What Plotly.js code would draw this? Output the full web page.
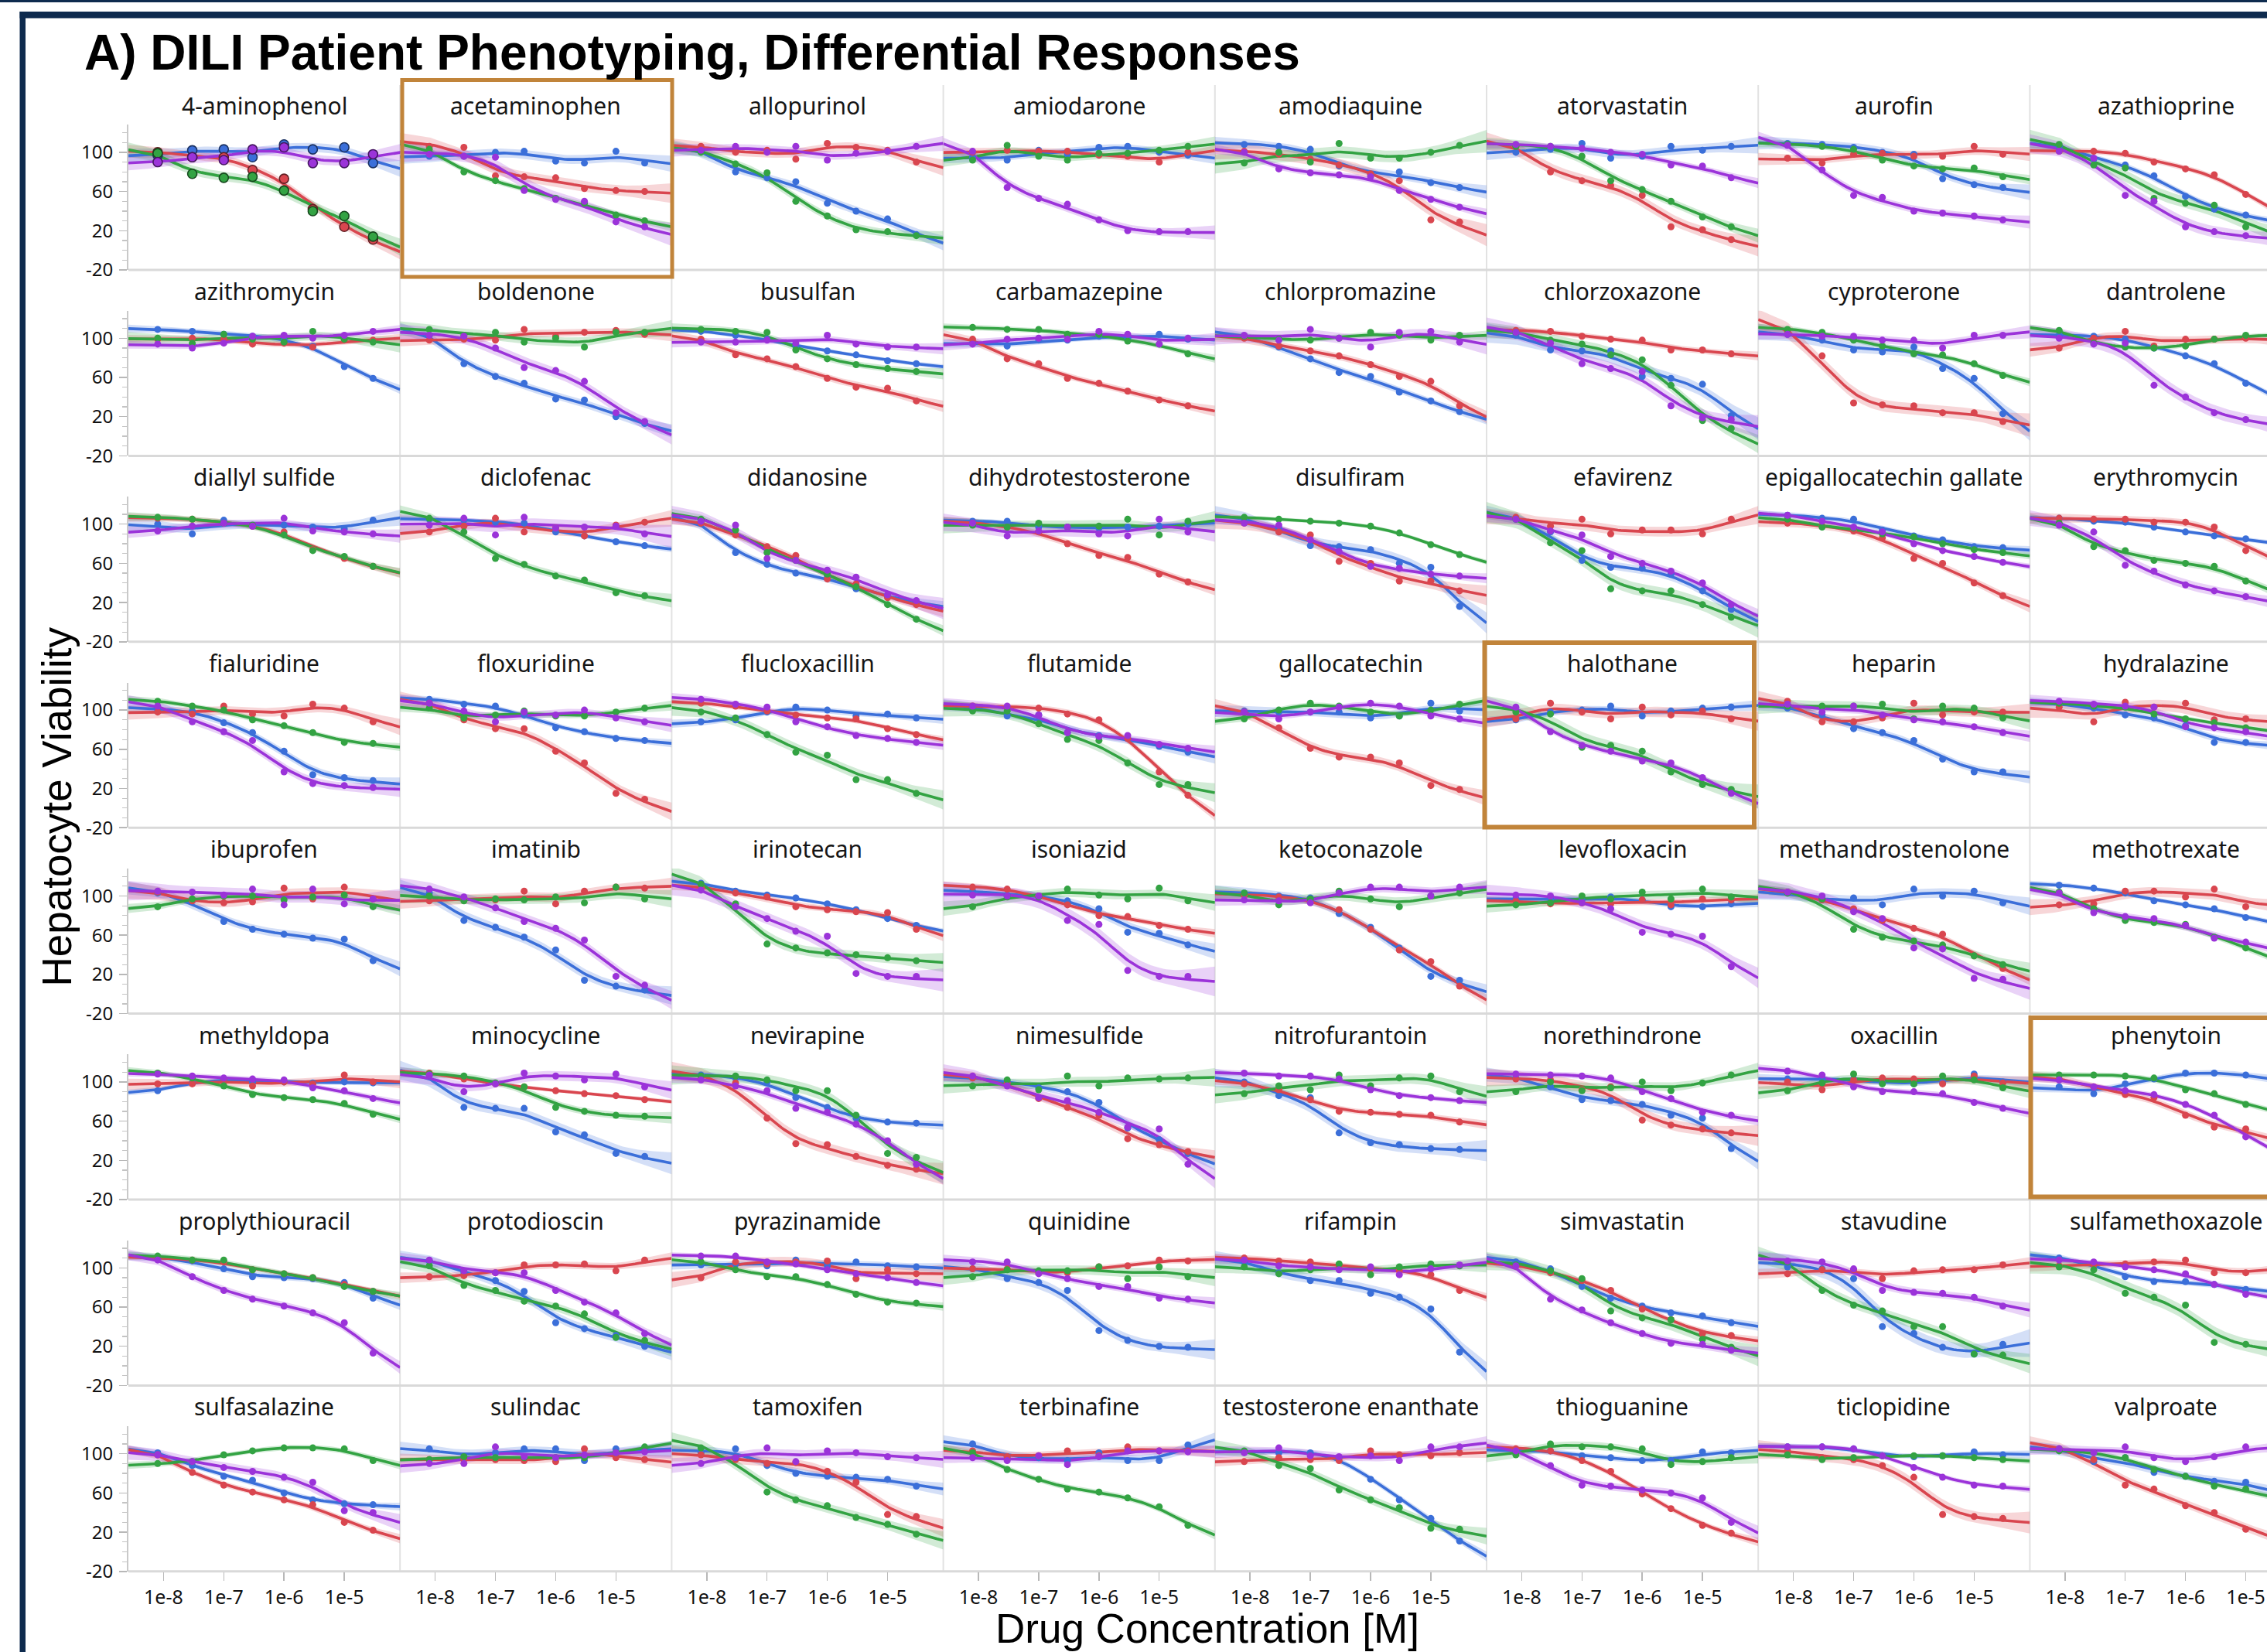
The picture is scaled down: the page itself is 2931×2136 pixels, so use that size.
<!DOCTYPE html>
<html>
<head>
<meta charset="utf-8">
<script src="https://cdn.plot.ly/plotly-3.0.1.min.js"></script>
<style>
html,body{margin:0;padding:0;background:#ffffff;overflow:hidden;width:2931px;height:2136px;}
#chart{width:2990px;height:2136px;}
</style>
</head>
<body>
<div id="chart"></div>
<script>
// ---------------- DATA ----------------
const drugs = ["4-aminophenol","acetaminophen","allopurinol","amiodarone","amodiaquine","atorvastatin","aurofin","azathioprine",
"azithromycin","boldenone","busulfan","carbamazepine","chlorpromazine","chlorzoxazone","cyproterone","dantrolene",
"diallyl sulfide","diclofenac","didanosine","dihydrotestosterone","disulfiram","efavirenz","epigallocatechin gallate","erythromycin",
"fialuridine","floxuridine","flucloxacillin","flutamide","gallocatechin","halothane","heparin","hydralazine",
"ibuprofen","imatinib","irinotecan","isoniazid","ketoconazole","levofloxacin","methandrostenolone","methotrexate",
"methyldopa","minocycline","nevirapine","nimesulfide","nitrofurantoin","norethindrone","oxacillin","phenytoin",
"proplythiouracil","protodioscin","pyrazinamide","quinidine","rifampin","simvastatin","stavudine","sulfamethoxazole",
"sulfasalazine","sulindac","tamoxifen","terbinafine","testosterone enanthate","thioguanine","ticlopidine","valproate"];

const concentrations = [8e-9, 3e-8, 1e-7, 3e-7, 1e-6, 3e-6, 1e-5, 3e-5];

const viabilityBlue = [
[97,102,103,95,108,103,105,89],[96,96,100,101,91,89,101,89],[102,80,74,70,48,40,32,16],[95,92,102,98,105,106,100,97],
[108,106,103,86,77,80,69,64],[100,103,109,94,96,106,102,106],[109,108,105,100,98,73,67,64],[106,93,87,76,55,42,36,30],
[109,107,104,102,98,92,71,59],[103,74,61,54,38,37,20,13],[107,103,99,92,87,83,77,74],[95,92,98,98,102,100,104,99],
[102,91,79,65,61,45,36,25],[103,88,87,87,61,59,53,21],[104,98,88,86,91,69,59,23],[103,102,99,90,82,74,54,40],
[100,90,104,98,99,97,95,104],[105,104,102,101,92,88,82,78],[101,71,59,50,47,34,26,21],[103,103,97,97,96,97,98,100],
[105,96,78,77,74,60,56,16],[105,92,63,56,55,49,32,13],[109,106,105,94,88,84,77,76],[106,103,102,97,92,88,85,80],
[100,99,87,77,58,34,31,28],[111,106,104,95,82,78,71,69],[88,90,98,103,100,94,96,92],[103,94,95,77,74,71,63,57],
[99,98,98,98,92,94,107,99],[90,98,100,104,94,99,102,103],[102,95,81,77,69,50,37,37],[106,102,95,92,84,67,67,64],
[103,95,74,66,61,57,56,34],[103,75,68,58,45,14,8,4],[113,105,101,98,92,86,77,70],[105,101,100,95,87,63,62,50],
[103,100,98,82,68,47,18,14],[97,97,96,99,96,89,89,92],[103,96,98,91,107,100,105,93],[111,108,103,95,91,87,78,72],
[91,99,103,100,100,99,100,99],[107,74,73,73,49,46,27,24],[107,104,100,84,74,63,59,58],[104,100,94,90,79,53,41,27],
[100,86,84,48,38,36,32,31],[104,95,82,81,77,66,63,32],[103,103,103,99,98,100,108,100],[95,88,98,103,109,109,107,102],
[110,107,99,91,90,89,85,69],[107,95,87,76,44,38,31,20],[103,104,102,108,102,106,102,101],[99,89,85,77,36,26,20,19],
[106,95,87,87,74,70,58,14],[106,99,81,69,61,54,51,44],[101,99,89,40,33,19,12,22],[110,104,91,86,86,83,78,75],
[101,88,77,73,60,53,49,48],[105,97,101,105,105,93,105,103],[101,105,88,80,77,76,74,67],[110,97,96,93,101,93,93,109],
[102,101,101,96,74,53,34,11],[103,103,98,96,93,93,102,101],[107,107,105,98,97,98,102,99],[105,92,96,81,77,72,71,60]
];

const viabilityRed = [
[100,95,95,82,73,42,24,11],[106,105,76,75,74,63,61,60],[106,100,102,93,109,105,102,90],[100,102,101,101,97,96,90,100],
[101,98,93,87,78,71,31,29],[106,80,71,66,56,24,21,11],[94,89,98,99,96,96,106,98],[101,101,99,90,83,77,57,40],
[99,100,99,94,95,91,98,98],[98,99,98,109,102,106,108,104],[99,83,79,71,59,50,49,36],[99,79,74,59,54,46,37,31],
[100,92,87,82,73,61,56,31],[108,107,102,99,98,88,88,84],[107,82,34,32,31,24,24,15],[90,100,107,92,99,99,100,98],
[106,105,101,98,92,74,65,57],[92,98,106,92,96,88,99,102],[101,89,77,68,44,39,25,18],[101,97,92,80,68,66,49,41],
[101,92,89,62,60,42,42,32],[107,98,105,90,94,94,90,105],[101,98,93,86,65,60,40,27],[106,105,105,102,102,97,73,65],
[98,96,104,96,94,106,102,88],[107,90,81,81,58,46,15,9],[107,104,99,95,92,91,81,75],[104,103,102,96,90,71,37,13],
[98,82,61,52,52,46,23,19],[91,107,98,91,103,95,99,91],[109,88,88,92,107,95,98,98],[103,88,108,103,107,90,91,88],
[104,95,93,94,108,97,109,97],[95,97,96,105,92,105,109,108],[109,103,99,89,86,84,83,66],[109,107,100,91,80,79,70,66],
[101,99,95,86,66,45,33,8],[95,92,93,92,96,91,97,96],[104,96,87,75,67,61,39,26],[91,92,105,105,99,107,89,92],
[98,98,103,96,100,98,107,100],[109,103,98,95,91,88,86,82],[103,99,63,37,36,24,15,11],[104,99,83,74,66,42,36,29],
[98,92,82,70,69,67,66,59],[103,102,92,95,61,56,52,48],[100,92,102,104,103,98,106,99],[103,95,87,84,66,54,52,40],
[110,108,106,98,94,90,83,76],[91,92,95,103,103,104,97,108],[90,106,104,106,107,89,98,94],[99,99,95,95,101,102,108,107],
[110,107,106,102,99,97,93,77],[102,95,87,77,58,47,33,31],[94,98,98,89,97,98,98,103],[102,103,104,106,108,95,95,100],
[99,81,68,61,53,48,30,22],[94,94,94,93,92,105,96,94],[99,94,90,91,82,71,38,36],[103,97,98,103,98,107,103,103],
[92,96,94,93,103,99,98,101],[105,103,93,82,59,44,27,19],[103,96,94,88,76,38,36,34],[105,94,68,64,47,40,23,15]
];

const viabilityGreen = [
[99,78,74,75,61,40,35,14],[103,80,71,63,53,48,36,30],[100,88,79,50,35,21,19,15],[92,107,96,92,99,99,102,106],
[89,100,90,109,94,94,100,107],[106,106,96,71,62,50,34,24],[108,106,103,92,86,83,84,75],[108,87,84,53,48,46,24,18],
[100,95,104,99,96,107,99,96],[109,103,106,96,100,91,106,106],[109,107,106,88,79,73,69,66],[111,109,109,104,104,97,94,84],
[102,99,98,100,106,103,98,103],[106,98,94,83,78,52,16,8],[109,106,98,92,84,83,74,62],[108,95,91,90,92,99,103,102],
[107,105,101,99,89,73,67,57],[106,92,65,59,47,43,30,27],[105,94,71,63,49,36,18,3],[99,97,101,97,98,105,89,103],
[107,105,103,101,98,91,79,69],[105,81,73,34,32,32,18,5],[105,97,96,90,87,80,74,71],[101,77,73,63,60,57,42,30],
[109,104,100,90,84,77,67,66],[102,92,95,99,94,94,98,102],[98,92,75,57,54,29,29,15],[99,99,86,70,69,46,24,24],
[91,100,107,104,98,94,100,106],[98,96,62,64,58,37,24,19],[104,104,104,106,91,104,102,92],[107,104,103,96,91,87,82,78],
[89,97,100,100,96,99,101,89],[100,95,97,96,99,93,109,97],[112,92,51,47,42,40,37,34],[89,99,99,107,101,97,108,95],
[103,91,97,105,97,89,100,103],[91,93,100,97,104,97,107,99],[103,97,66,58,54,50,39,30],[104,87,75,73,71,58,47,35],
[109,104,96,87,84,82,78,67],[108,106,99,95,74,70,66,65],[106,106,102,91,91,66,27,23],[96,102,92,106,96,104,103,104],
[88,96,92,107,96,104,106,90],[90,100,91,94,100,91,99,107],[91,99,108,98,98,106,102,94],[107,107,106,104,92,88,77,70],
[112,108,108,98,94,90,81,76],[102,82,77,66,61,53,29,26],[106,98,91,91,83,73,65,64],[91,98,97,97,101,89,101,91],
[101,94,98,104,93,101,104,102],[103,97,89,56,49,47,27,19],[106,77,62,56,40,40,12,11],[101,98,74,70,62,24,22,18],
[90,92,99,103,106,106,105,93],[94,97,96,96,96,96,101,107],[106,96,61,53,47,35,28,18],[101,84,74,64,61,55,46,27],
[103,88,85,63,53,45,24,23],[99,110,107,107,105,89,92,96],[99,94,96,98,98,98,96,94],[103,101,96,84,77,67,64,55]
];

const viabilityPurple = [
[90,95,92,103,105,89,89,98],[98,96,95,61,52,50,29,24],[102,106,100,106,92,99,101,106],[101,64,53,47,31,20,19,19],
[100,83,79,77,75,61,52,44],[108,106,104,100,98,87,86,74],[107,82,56,54,40,38,35,31],[101,94,56,50,24,19,15,12],
[94,90,95,102,103,100,103,107],[103,102,90,70,67,56,24,15],[96,96,98,95,103,94,91,91],[94,99,100,99,107,104,94,100],
[103,98,109,100,91,106,107,96],[106,95,74,69,66,31,19,17],[104,102,102,98,98,90,103,103],[100,94,95,52,40,24,17,12],
[93,98,101,98,106,93,92,90],[99,106,89,107,96,97,98,90],[103,99,65,63,53,46,28,22],[101,88,93,97,90,88,105,92],
[101,99,84,72,57,55,49,47],[105,93,89,67,60,52,40,18],[109,103,97,92,80,73,67,61],[99,92,58,52,38,32,26,20],
[104,88,78,69,37,25,23,21],[107,99,88,98,95,100,92,88],[111,106,103,88,83,74,71,67],[104,104,95,77,73,74,65,61],
[98,91,98,103,107,104,94,91],[103,78,64,58,48,46,31,15],[106,98,104,95,90,88,83,77],[109,106,104,103,83,82,78,72],
[105,104,101,107,91,107,92,97],[107,99,88,74,67,55,18,9],[106,89,77,64,59,21,18,18],[101,100,100,75,71,24,18,18],
[96,95,93,103,109,109,100,109],[101,100,93,87,63,61,59,28],[104,100,84,77,47,46,16,15],[103,83,79,77,70,57,53,45],
[108,106,104,103,102,94,91,83],[107,90,98,109,106,102,108,95],[102,96,91,73,69,57,40,16],[106,96,84,81,69,54,52,16],
[109,106,106,103,92,86,84,81],[108,107,106,104,90,83,69,66],[111,107,95,90,90,88,79,73],[102,95,91,87,77,66,44,30],
[108,91,77,68,61,54,44,13],[108,97,95,95,77,65,54,33],[112,112,106,104,98,94,90,85],[106,106,94,89,81,81,69,68],
[108,102,101,98,101,93,99,103],[102,68,57,44,33,23,22,16],[107,106,99,77,75,74,70,61],[108,106,101,98,94,83,73,70],
[99,92,86,82,76,71,42,40],[90,90,107,97,96,99,101,102],[90,96,106,92,103,101,97,96],[96,93,98,89,97,103,103,102],
[101,106,98,97,98,93,107,107],[103,88,68,67,63,60,55,30],[107,107,105,98,86,76,68,67],[105,101,107,96,92,97,107,105]
];

const highlightedDrugs = ["acetaminophen", "halothane", "phenytoin"];
const xTickValues = [1e-8, 1e-7, 1e-6, 1e-5];
const xTickLabels = ["1e-8", "1e-7", "1e-6", "1e-5"];
const yTickValues = [-20, 20, 60, 100];
const yTickLabels = ["-20", "20", "60", "100"];
const yMinorValues = [-20,-10,0,10,20,30,40,50,60,70,80,90,100,110,120];

// ---------------- STYLE / GEOMETRY ----------------
const W = 2990, H = 2136;
const NCOL = 8;
const COL0 = 166, COLW = 351.2, ROW0 = 349, ROWH = 240.4, PLOTH = 187.6;
const XRANGE = [-8.583, -4.075], YRANGE = [-20, 128];
const LAMBDA = 0.035, BANDZ = 1.0, END_DAMP = 0.4;
const seriesDefs = [
  {vals: viabilityBlue,   color: [59,111,217]},
  {vals: viabilityRed,    color: [217,70,79]},
  {vals: viabilityGreen,  color: [51,163,67]},
  {vals: viabilityPurple, color: [155,51,217]}
];
const NAVY = '#0e2b4e', ORANGE = '#c1843a';
const rgb = (c, a) => a === undefined ? `rgb(${c[0]},${c[1]},${c[2]})` : `rgba(${c[0]},${c[1]},${c[2]},${a})`;
const px = x => x / W;
const py = y => 1 - y / H;

// ---------------- smoothing spline (natural cubic, Reinsch) ----------------
function solveLinear(A, b) {
  const n = b.length, M = A.map((r, i) => r.slice().concat([b[i]]));
  for (let c = 0; c < n; c++) {
    let p = c; for (let r = c + 1; r < n; r++) if (Math.abs(M[r][c]) > Math.abs(M[p][c])) p = r;
    [M[c], M[p]] = [M[p], M[c]];
    for (let r = c + 1; r < n; r++) { const f = M[r][c] / M[c][c]; for (let k = c; k <= n; k++) M[r][k] -= f * M[c][k]; }
  }
  const x = new Array(n).fill(0);
  for (let r = n - 1; r >= 0; r--) { let s = M[r][n]; for (let k = r + 1; k < n; k++) s -= M[r][k] * x[k]; x[r] = s / M[r][r]; }
  return x;
}
function fitSpline(xs, ys, lam) {
  const n = xs.length, m = n - 2, h = [];
  for (let i = 0; i < n - 1; i++) h.push(xs[i + 1] - xs[i]);
  const Q = Array.from({length: n}, () => new Array(m).fill(0));
  for (let j = 1; j <= m; j++) { Q[j - 1][j - 1] = 1 / h[j - 1]; Q[j][j - 1] = -1 / h[j - 1] - 1 / h[j]; Q[j + 1][j - 1] = 1 / h[j]; }
  const A = Array.from({length: m}, () => new Array(m).fill(0));
  for (let a = 0; a < m; a++) { A[a][a] = (h[a] + h[a + 1]) / 3; if (a < m - 1) { A[a][a + 1] = h[a + 1] / 6; A[a + 1][a] = h[a + 1] / 6; } }
  for (let a = 0; a < m; a++) for (let b = 0; b < m; b++) { let s = 0; for (let i = 0; i < n; i++) s += Q[i][a] * Q[i][b]; A[a][b] += lam * s; }
  const rhs = []; for (let a = 0; a < m; a++) { let s = 0; for (let i = 0; i < n; i++) s += Q[i][a] * ys[i]; rhs.push(s); }
  const gam = solveLinear(A, rhs);
  const g = ys.map((y, i) => { let s = 0; for (let a = 0; a < m; a++) s += Q[i][a] * gam[a]; return y - lam * s; });
  const G = [0].concat(gam, [0]);
  const f = t => {
    if (t <= xs[0]) { const s = (g[1] - g[0]) / h[0] - h[0] * G[1] / 6; return g[0] + END_DAMP * s * (t - xs[0]); }
    if (t >= xs[n - 1]) { const s = (g[n - 1] - g[n - 2]) / h[n - 2] + h[n - 2] * G[n - 2] / 6; return g[n - 1] + 0.8 * s * (t - xs[n - 1]); }
    let i = 0; while (t > xs[i + 1]) i++;
    const a = t - xs[i], b = xs[i + 1] - t, hi = h[i];
    return (a * g[i + 1] + b * g[i]) / hi - a * b / 6 * ((1 + a / hi) * G[i + 1] + (1 + b / hi) * G[i]);
  };
  return {g, f};
}
const logX = concentrations.map(c => Math.log10(c));
const NG = 90;
const gridT = Array.from({length: NG}, (_, i) => XRANGE[0] + (XRANGE[1] - XRANGE[0]) * i / (NG - 1));
const gridX = gridT.map(t => Math.pow(10, t));
// smoother basis (linear in y)
const basisGrid = [], basisData = [];
for (let k = 0; k < logX.length; k++) {
  const e = logX.map((_, j) => j === k ? 1 : 0);
  const fit = fitSpline(logX, e, LAMBDA);
  basisGrid.push(gridT.map(fit.f));
  basisData.push(fit.g);
}
let traceS = 0; for (let k = 0; k < logX.length; k++) traceS += basisData[k][k];
const varFactor = gridT.map((_, i) => basisGrid.reduce((s, b) => s + b[i] * b[i], 0));

function smoothSeries(ys) {
  const n = ys.length;
  const curve = gridT.map((_, i) => ys.reduce((s, y, k) => s + y * basisGrid[k][i], 0));
  const fitted = logX.map((_, j) => ys.reduce((s, y, k) => s + y * basisData[k][j], 0));
  let rss = 0; for (let j = 0; j < n; j++) rss += (ys[j] - fitted[j]) ** 2;
  const sigma = Math.sqrt(rss / Math.max(n - traceS, 1));
  const half = varFactor.map(v => BANDZ * sigma * Math.sqrt(v) + 1.5);
  return {curve, upper: curve.map((c, i) => c + half[i]), lower: curve.map((c, i) => c - half[i])};
}

// ---------------- build figure ----------------
const traces = [];
const layout = {
  width: W, height: H, autosize: false,
  margin: {l: 0, r: 0, t: 0, b: 0, pad: 0},
  paper_bgcolor: '#ffffff', plot_bgcolor: 'rgba(0,0,0,0)',
  showlegend: false, hovermode: false,
  font: {family: 'Noto Sans, sans-serif', color: '#111111'},
  shapes: [], annotations: []
};

drugs.forEach((drug, k) => {
  const col = k % NCOL, row = Math.floor(k / NCOL);
  const left = COL0 + COLW * col, bottom = ROW0 + ROWH * row;
  const sfx = k === 0 ? '' : String(k + 1);
  const xa = 'x' + sfx, ya = 'y' + sfx;
  const isBottom = row === 7, isLeft = col === 0;
  layout['xaxis' + sfx] = {
    type: 'log', range: XRANGE, domain: [px(left), px(left + COLW)], anchor: ya,
    showgrid: false, zeroline: false, showline: false, fixedrange: true,
    tickmode: 'array', tickvals: xTickValues, ticktext: xTickLabels,
    ticks: isBottom ? 'outside' : '', ticklen: 11, tickwidth: 1.5, tickcolor: '#b8b8b8',
    showticklabels: isBottom, ticklabelstandoff: 0,
    tickfont: {family: 'Noto Sans, sans-serif', size: 25, color: '#111111'}
  };
  layout['yaxis' + sfx] = {
    range: YRANGE, domain: [py(bottom), py(bottom - PLOTH)], anchor: xa,
    showgrid: false, zeroline: false, fixedrange: true,
    showline: isLeft, linecolor: '#c9c9c9', linewidth: 2,
    tickmode: 'array', tickvals: yTickValues, ticktext: yTickLabels,
    ticks: isLeft ? 'outside' : '', ticklen: 10, tickwidth: 1.5, tickcolor: '#b8b8b8',
    showticklabels: isLeft, ticklabelstandoff: 3,
    tickfont: {family: 'Noto Sans, sans-serif', size: 24, color: '#111111'},
    minor: isLeft ? {tickmode: 'array', tickvals: yMinorValues, ticks: 'outside', ticklen: 6, tickwidth: 1.2, tickcolor: '#c4c4c4'} : {ticks: ''}
  };
  // panel title
  layout.annotations.push({
    text: drug, xref: 'paper', yref: 'paper', x: px(left + COLW / 2), y: py(bottom - 213),
    xanchor: 'center', yanchor: 'middle', showarrow: false,
    font: {family: 'Noto Sans, sans-serif', size: 30, color: '#151515'}
  });
  const big = k === 0;
  const fits = seriesDefs.map(s => smoothSeries(s.vals[k]));
  // bands
  seriesDefs.forEach((s, si) => {
    const fit = fits[si];
    traces.push({
      type: 'scatter', mode: 'lines', xaxis: xa, yaxis: ya,
      x: gridX.concat(gridX.slice().reverse()),
      y: fit.upper.concat(fit.lower.slice().reverse()),
      fill: 'toself', fillcolor: rgb(s.color, 0.22), line: {width: 0, color: 'rgba(0,0,0,0)'},
      hoverinfo: 'skip'
    });
  });
  // curves
  seriesDefs.forEach((s, si) => {
    traces.push({
      type: 'scatter', mode: 'lines', xaxis: xa, yaxis: ya,
      x: gridX, y: fits[si].curve,
      line: {color: rgb(s.color), width: 3.6, shape: 'linear'}, hoverinfo: 'skip'
    });
  });
  // points
  seriesDefs.forEach((s, si) => {
    const dark = s.color.map(v => Math.round(v * 0.45));
    traces.push({
      type: 'scatter', mode: 'markers', xaxis: xa, yaxis: ya,
      x: concentrations, y: s.vals[k],
      marker: big ? {size: 12, color: rgb(s.color), line: {width: 1.6, color: rgb(dark)}}
                  : {size: 9, color: rgb(s.color), line: {width: 0}},
      hoverinfo: 'skip'
    });
  });
});

// separators
for (let c = 1; c <= NCOL; c++) {
  const x = COL0 + COLW * c;
  layout.shapes.push({type: 'line', xref: 'paper', yref: 'paper', x0: px(x), x1: px(x), y0: py(110), y1: py(ROW0 + ROWH * 7),
    line: {color: '#e2e2e2', width: 2}, layer: 'below'});
}
for (let r = 0; r < 8; r++) {
  const y = ROW0 + ROWH * r;
  layout.shapes.push({type: 'line', xref: 'paper', yref: 'paper', x0: px(COL0), x1: 1, y0: py(y), y1: py(y),
    line: {color: '#d9d9d9', width: 3}, layer: 'below'});
}
// highlight boxes (pixel rectangles)
const highlightBoxes = {
  "acetaminophen": [520, 103.5, 869, 358, 5],
  "halothane": [1919.5, 831, 2268, 1069.5, 6],
  "phenytoin": [2625.5, 1316, 3100, 1547.5, 6]
};
highlightedDrugs.forEach(d => {
  const b = highlightBoxes[d];
  layout.shapes.push({type: 'rect', xref: 'paper', yref: 'paper', x0: px(b[0]), x1: px(b[2]), y0: py(b[1]), y1: py(b[3]),
    line: {color: ORANGE, width: b[4]}, fillcolor: 'rgba(0,0,0,0)', layer: 'above'});
});
// frame
layout.shapes.push({type: 'rect', xref: 'paper', yref: 'paper', x0: 0, x1: 1, y0: py(0), y1: py(3), line: {width: 0}, fillcolor: NAVY, layer: 'above'});
layout.shapes.push({type: 'rect', xref: 'paper', yref: 'paper', x0: px(25.5), x1: 1, y0: py(15), y1: py(23.5), line: {width: 0}, fillcolor: NAVY, layer: 'above'});
layout.shapes.push({type: 'rect', xref: 'paper', yref: 'paper', x0: px(25.5), x1: px(33), y0: py(15), y1: py(H + 20), line: {width: 0}, fillcolor: NAVY, layer: 'above'});

// titles
layout.annotations.push({
  text: 'A) DILI Patient Phenotyping, Differential Responses', xref: 'paper', yref: 'paper',
  x: px(107), y: py(68.5), xanchor: 'left', yanchor: 'middle', showarrow: false,
  font: {family: 'Liberation Sans, Arial, sans-serif', size: 64, color: '#000000', weight: 'bold'}
});
layout.annotations.push({
  text: 'Drug Concentration [M]', xref: 'paper', yref: 'paper',
  x: px(1561), y: py(2105), xanchor: 'center', yanchor: 'middle', showarrow: false,
  font: {family: 'Liberation Sans, Arial, sans-serif', size: 53, color: '#000000'}
});
layout.annotations.push({
  text: 'Hepatocyte Viability', xref: 'paper', yref: 'paper', textangle: -90,
  x: px(72.5), y: py(1043), xanchor: 'center', yanchor: 'middle', showarrow: false,
  font: {family: 'Liberation Sans, Arial, sans-serif', size: 53, color: '#000000'}
});

Plotly.newPlot('chart', traces, layout, {staticPlot: true, displayModeBar: false, responsive: false});
</script>
</body>
</html>
